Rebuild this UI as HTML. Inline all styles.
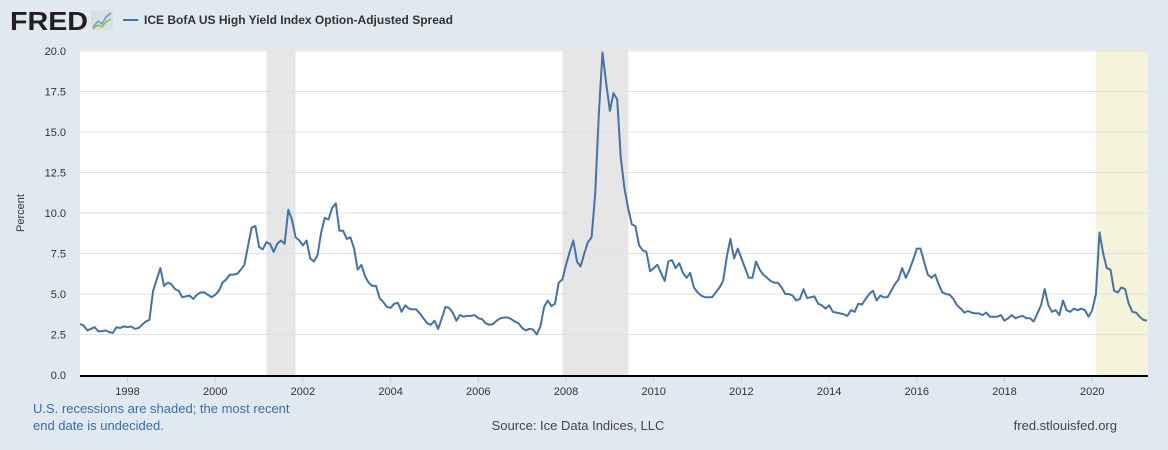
<!DOCTYPE html>
<html><head><meta charset="utf-8"><style>
body{margin:0;background:#e1e9f0;font-family:"Liberation Sans",sans-serif;}
#wrap{position:relative;width:1168px;height:450px;overflow:hidden;}
</style></head><body>
<div id="wrap">
<svg id="chart" width="1168" height="450" xmlns="http://www.w3.org/2000/svg">
<g>
<text x="10" y="30" font-size="26" font-weight="bold" fill="#231f20" font-family="Liberation Sans, sans-serif" textLength="78" lengthAdjust="spacingAndGlyphs">FRED</text>
<rect x="91" y="10" width="22" height="20" fill="#d8dfe6" rx="2"/>
<polyline points="93,27 98,21 102,24 106,17 111,13" fill="none" stroke="#6b9bd1" stroke-width="1.5"/>
<polyline points="93,29 98,25 102,27 106,22 111,19" fill="none" stroke="#8cbf3f" stroke-width="1.5"/>
</g>
<line x1="123" y1="20" x2="138" y2="20" stroke="#4572a7" stroke-width="2"/>
<text x="144" y="24" font-size="12" font-weight="bold" fill="#333">ICE BofA US High Yield Index Option-Adjusted Spread</text>
<rect x="80" y="50" width="1068" height="326" fill="#fff"/>
<g id="rec"></g><g id="grid"></g><g id="ylab"></g><g id="xlab"></g>
<path id="line" fill="none" stroke="#4572a7" stroke-width="2" stroke-linejoin="round"/>
<line x1="80" y1="376" x2="1148" y2="376" stroke="#000" stroke-width="2"/>
<text x="24" y="213" font-size="11" fill="#333" transform="rotate(-90 24 213)" text-anchor="middle">Percent</text>
<text x="33" y="413" font-size="13" fill="#3a6ab0">U.S. recessions are shaded; the most recent</text>
<text x="33" y="430" font-size="13" fill="#3a6ab0">end date is undecided.</text>
<text x="578" y="430" font-size="13" fill="#444" text-anchor="middle">Source: Ice Data Indices, LLC</text>
<text x="1117" y="430" font-size="13" fill="#444" text-anchor="end">fred.stlouisfed.org</text>
</svg>
</div>
<script>
const startYear = 1996, startMonth = 12;
const values = [3.15,3.05,2.75,2.85,2.95,2.7,2.7,2.75,2.65,2.6,2.95,2.9,3.0,2.95,3.0,2.85,2.9,3.1,3.3,3.4,5.2,5.9,6.6,5.5,5.7,5.6,5.3,5.2,4.8,4.85,4.9,4.7,4.95,5.1,5.1,4.95,4.8,4.95,5.2,5.7,5.9,6.2,6.2,6.25,6.5,6.8,8.0,9.1,9.2,7.9,7.75,8.2,8.1,7.6,8.1,8.3,8.1,10.2,9.6,8.5,8.3,8.0,8.3,7.2,7.0,7.4,8.8,9.7,9.6,10.3,10.6,8.9,8.9,8.4,8.5,7.8,6.5,6.8,6.1,5.7,5.5,5.5,4.75,4.5,4.2,4.15,4.4,4.45,3.9,4.3,4.1,4.05,4.05,3.8,3.5,3.2,3.1,3.35,2.85,3.5,4.2,4.15,3.85,3.35,3.7,3.6,3.65,3.65,3.7,3.5,3.45,3.2,3.1,3.15,3.35,3.5,3.55,3.55,3.45,3.3,3.2,2.9,2.75,2.85,2.8,2.5,3.0,4.2,4.6,4.25,4.4,5.7,5.9,6.8,7.6,8.3,7.0,6.7,7.5,8.2,8.5,11.2,16.2,19.9,18.0,16.3,17.4,17.0,13.4,11.5,10.3,9.3,9.2,8.0,7.7,7.6,6.4,6.6,6.8,6.3,5.8,7.0,7.1,6.6,6.9,6.3,6.0,6.3,5.4,5.1,4.9,4.8,4.8,4.8,5.1,5.4,5.8,7.3,8.4,7.2,7.8,7.2,6.6,6.0,6.0,7.0,6.5,6.2,6.0,5.8,5.7,5.7,5.4,5.0,5.0,4.9,4.6,4.7,5.3,4.75,4.8,4.85,4.4,4.3,4.1,4.3,3.9,3.85,3.8,3.75,3.65,4.0,3.9,4.4,4.35,4.7,5.0,5.2,4.6,4.9,4.8,4.8,5.2,5.6,5.9,6.6,6.0,6.5,7.1,7.8,7.8,7.0,6.2,6.0,6.2,5.6,5.1,5.0,4.95,4.7,4.3,4.1,3.85,3.95,3.85,3.8,3.8,3.7,3.85,3.6,3.6,3.6,3.7,3.35,3.5,3.7,3.5,3.6,3.65,3.5,3.5,3.3,3.8,4.3,5.3,4.3,3.9,4.0,3.7,4.6,4.0,3.9,4.1,4.0,4.1,4.0,3.6,4.0,5.0,8.8,7.5,6.6,6.5,5.2,5.1,5.4,5.3,4.4,3.9,3.85,3.6,3.4,3.35];
const yTicks = [0,2.5,5,7.5,10,12.5,15,17.5,20];
const xTickYears = [1998,2000,2002,2004,2006,2008,2010,2012,2014,2016,2018,2020];
const recStart = [2001.17,2007.92,2020.08];
const recEnd = [2001.83,2009.42,2021.35];
const recColor = ["#e6e6e6","#e6e6e6","#f5f3d9"];

const NS="http://www.w3.org/2000/svg";
const L=80,R=1148,T=51,B=375;
const x0 = startYear + (startMonth-1)/12;
const pxPerYear = 43.85;
function xs(t){return L + (t - x0)*pxPerYear;}
function ys(v){return B - (v/20)*(B-T);}
function mk(tag,attrs,parent){const e=document.createElementNS(NS,tag);for(const k in attrs)e.setAttribute(k,attrs[k]);parent.appendChild(e);return e;}

const rec=document.getElementById('rec');
recStart.forEach((s,i)=>{
  const a=Math.max(L,xs(s)), b=Math.min(R,xs(recEnd[i]));
  const r=mk('rect',{x:a,y:50,width:b-a,height:326,fill:recColor[i]},rec);
  
  
});
const grid=document.getElementById('grid'), ylab=document.getElementById('ylab');
yTicks.forEach(v=>{
  if(v>0){const g=mk('line',{x1:L,x2:R,y1:ys(v),y2:ys(v),stroke:'#e0e0e0','stroke-width':1},grid);
  
  }
  const t=mk('text',{x:66,y:ys(v)+4,'font-size':11,fill:'#333','text-anchor':'end'},ylab);
  t.textContent=v.toFixed(1);
  
  
});
const xlab=document.getElementById('xlab');
xTickYears.forEach(yr=>{
  const x=xs(yr);
  const tk=mk('line',{x1:x,x2:x,y1:377,y2:383,stroke:'#c0cbe0','stroke-width':1},xlab);
  
  
  const t=mk('text',{x:x,y:395,'font-size':11,fill:'#333','text-anchor':'middle'},xlab);
  t.textContent=yr;
  
  
});
let d='';
values.forEach((v,i)=>{d+=(i?'L':'M')+xs(x0+i/12).toFixed(1)+','+ys(v).toFixed(1);});
document.getElementById('line').setAttribute('d',d);
</script>
</body></html>
